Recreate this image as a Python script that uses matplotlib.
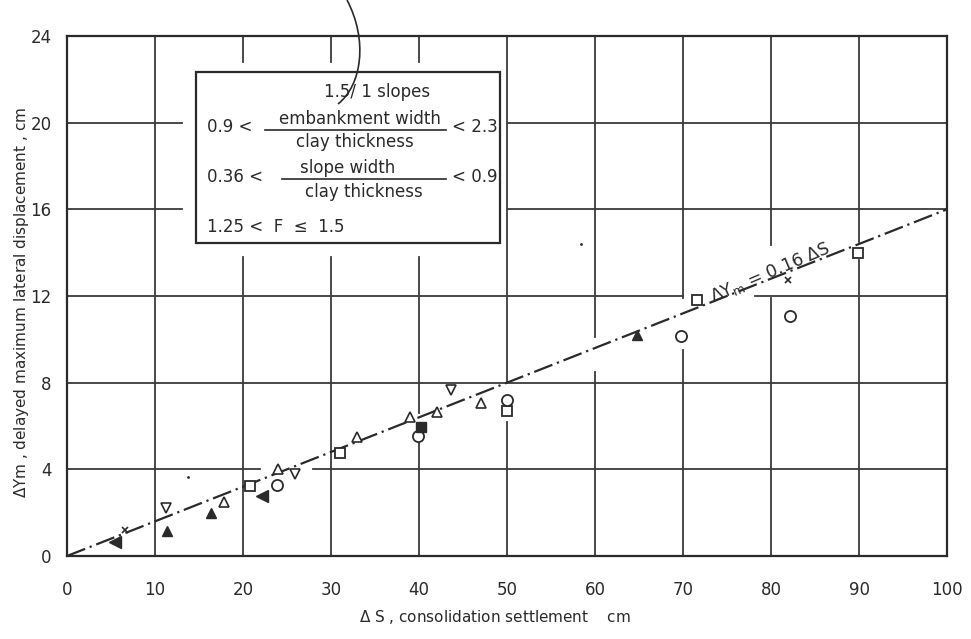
import matplotlib
matplotlib.use("Agg")
import matplotlib.pyplot as plt
from matplotlib.patches import Rectangle, PathPatch
from matplotlib.path import Path
import numpy as np

plt.rcParams['font.family'] = ['DejaVu Sans']
plt.rcParams['lines.scale_dashes'] = False

# ---------------- data ----------------
x_ticks = [0, 10, 20, 30, 40, 50, 60, 70, 80, 90, 100]
x_tick_labels = ["0", "10", "20", "30", "40", "50", "60", "70", "80", "90", "100"]
y_ticks = [0, 4, 8, 12, 16, 20, 24]
y_tick_labels = ["0", "4", "8", "12", "16", "20", "24"]

sq_open_x = [20.8, 31.0, 50.0, 71.6, 89.9]
sq_open_y = [3.23, 4.75, 6.7, 11.8, 14.0]
circ_open_x = [23.9, 39.9, 50.0, 69.8, 82.2]
circ_open_y = [3.3, 5.55, 7.2, 10.15, 11.1]
tri_open_x = [17.8, 24.0, 33.0, 39.0, 42.0, 47.0]
tri_open_y = [2.5, 4.0, 5.5, 6.4, 6.65, 7.05]
tri_down_x = [11.25, 25.9, 43.6]
tri_down_y = [2.2, 3.8, 7.65]
tri_fill_x = [11.4, 16.4, 64.8]
tri_fill_y = [1.15, 2.0, 10.2]
sq_fill_x = [40.2]
sq_fill_y = [5.95]
arrow_fill_x = [5.45, 22.2]
arrow_fill_y = [0.65, 2.77]
cross_x = [6.6, 81.9]
cross_y = [1.2, 12.75]
dot_x = [13.75, 58.4]
dot_y = [3.65, 14.4]

fit_slope = 0.16
fit_x = [0, 100]

# ---------------- figure ----------------
W, H = 971, 639
fig = plt.figure(figsize=(W / 100, H / 100), dpi=100)
AX_L, AX_R, AX_T, AX_B = 67, 947, 36, 556
ax = fig.add_axes([AX_L / W, 1 - AX_B / H, (AX_R - AX_L) / W, (AX_B - AX_T) / H])
ax.set_xlim(0, 100)
ax.set_ylim(0, 24)

ink = "#2a2a2a"
grid_c = "#3a3a3a"


def X(px):
    return (px - AX_L) / (AX_R - AX_L) * 100


def Y(py):
    return (AX_B - py) / (AX_B - AX_T) * 24


def P(px, py):
    return (px / W, 1 - py / H)


for s in ax.spines.values():
    s.set_color(ink)
    s.set_linewidth(1.6)

ax.set_xticks(x_ticks)
ax.set_xticklabels(x_tick_labels)
ax.set_yticks(y_ticks)
ax.set_yticklabels(y_tick_labels)
ax.tick_params(length=0, labelsize=12, colors=ink, pad=11)
ax.tick_params(axis='x', pad=18)

# box location (pixels)
BOX_L, BOX_R, BOX_T, BOX_B = 196, 500, 72, 243
PAD = 14

# grid lines with gaps (gaps in data units)
h_gaps = {
    4: [(X(260), X(313))],
    8: [],
    12: [(X(683), X(755))],
    16: [(X(BOX_L - PAD), X(BOX_R + 8))],
    20: [(X(BOX_L - PAD), X(BOX_R + 8))],
}
v_gaps = {
    10: [],
    20: [(Y(BOX_B + PAD), Y(BOX_T - 10))],
    30: [(Y(BOX_B + PAD), Y(BOX_T - 10))],
    40: [(Y(442), Y(413)), (Y(BOX_B + PAD), Y(BOX_T - 10))],
    50: [(Y(422), Y(383))],
    60: [(Y(372), Y(337))],
    70: [(Y(350), Y(298))],
    80: [(Y(298), Y(245))],
    90: [(Y(260), Y(242))],
}


def segments(lo, hi, gaps):
    segs = []
    cur = lo
    for g0, g1 in sorted(gaps):
        if g0 > cur:
            segs.append((cur, min(g0, hi)))
        cur = max(cur, g1)
    if cur < hi:
        segs.append((cur, hi))
    return segs


for yv, gaps in h_gaps.items():
    for a, b in segments(0, 100, gaps):
        ax.plot([a, b], [yv, yv], color=grid_c, lw=1.3, zorder=1)
for xv, gaps in v_gaps.items():
    for a, b in segments(0, 24, gaps):
        ax.plot([xv, xv], [a, b], color=grid_c, lw=1.3, zorder=1)

# fit line
fl, = ax.plot(fit_x, [fit_slope * v for v in fit_x], color=ink, lw=1.6, zorder=3)
fl.set_dashes([14, 3.5, 1.6, 3.5])

mk = dict(linestyle='none', color=ink, zorder=4)
ax.plot(sq_open_x, sq_open_y, marker='s', ms=7, mfc='white', mew=1.3, **mk)
ax.plot(circ_open_x, circ_open_y, marker='o', ms=8, mfc='white', mew=1.3, **mk)
ax.plot(tri_open_x, tri_open_y, marker='^', ms=7, mfc='white', mew=1.2, **mk)
ax.plot(tri_down_x, tri_down_y, marker='v', ms=7, mfc='white', mew=1.2, **mk)
ax.plot(tri_fill_x, tri_fill_y, marker='^', ms=6.5, mfc=ink, mew=1.0, **mk)
ax.plot(sq_fill_x, sq_fill_y, marker='s', ms=6.5, mfc=ink, mew=1.0, **mk)
ax.plot(arrow_fill_x, arrow_fill_y, marker='<', ms=8, mfc=ink, mew=1.0, **mk)
ax.plot(cross_x, cross_y, marker='x', ms=5, mew=1.2, **mk)
ax.plot(dot_x, dot_y, marker='o', ms=2, mfc=ink, mew=0, **mk)

# fit label
ax.text(79.9, 13.1, r"$\Delta$Y$_\mathregular{m}$ = 0.16 $\Delta$S", rotation=23,
        rotation_mode='anchor', ha='center', va='center', fontsize=12.5, color=ink,
        zorder=5)

# info box frame
ax.add_patch(Rectangle((X(BOX_L), Y(BOX_B)), X(BOX_R) - X(BOX_L), Y(BOX_T) - Y(BOX_B),
                       facecolor='white', edgecolor=ink, lw=1.6, zorder=5))

tk = dict(color=ink, fontsize=12, zorder=6, va='center')
fig.text(*P(430, 92), "1.5/ 1 slopes", ha='right', **tk)
fig.text(*P(207, 127), "0.9 <", ha='left', **tk)
fig.text(*P(360, 119), "embankment width", ha='center', **tk)
fig.text(*P(355, 142), "clay thickness", ha='center', **tk)
fig.add_artist(plt.Line2D([265 / W, 446 / W], [1 - 130 / H, 1 - 130 / H], color=ink, lw=1.2))
fig.text(*P(452, 127), "< 2.3", ha='left', **tk)

fig.text(*P(207, 177), "0.36 <", ha='left', **tk)
fig.text(*P(348, 168), "slope width", ha='center', **tk)
fig.text(*P(364, 192), "clay thickness", ha='center', **tk)
fig.add_artist(plt.Line2D([282 / W, 446 / W], [1 - 179 / H, 1 - 179 / H], color=ink, lw=1.2))
fig.text(*P(452, 177), "< 0.9", ha='left', **tk)

fig.text(*P(207, 227), "1.25 <  F  \u2264  1.5", ha='left', **tk)

# hand-drawn leader curve from top
verts = [P(347, 0), P(368, 40), P(362, 85), P(338, 104)]
path = Path(verts, [Path.MOVETO, Path.CURVE4, Path.CURVE4, Path.CURVE4])
fig.add_artist(PathPatch(path, transform=fig.transFigure, facecolor='none',
                         edgecolor=ink, lw=1.2))

# axis labels
fig.text(*P(22, 302), r"$\Delta$Ym , delayed maximum lateral displacement , cm",
         rotation=90, ha='center', va='center', fontsize=11, color=ink)
fig.text(*P(495, 617), r"$\Delta$ S , consolidation settlement    cm",
         ha='center', va='center', fontsize=11, color=ink)

fig.savefig("out.png", dpi=100)
